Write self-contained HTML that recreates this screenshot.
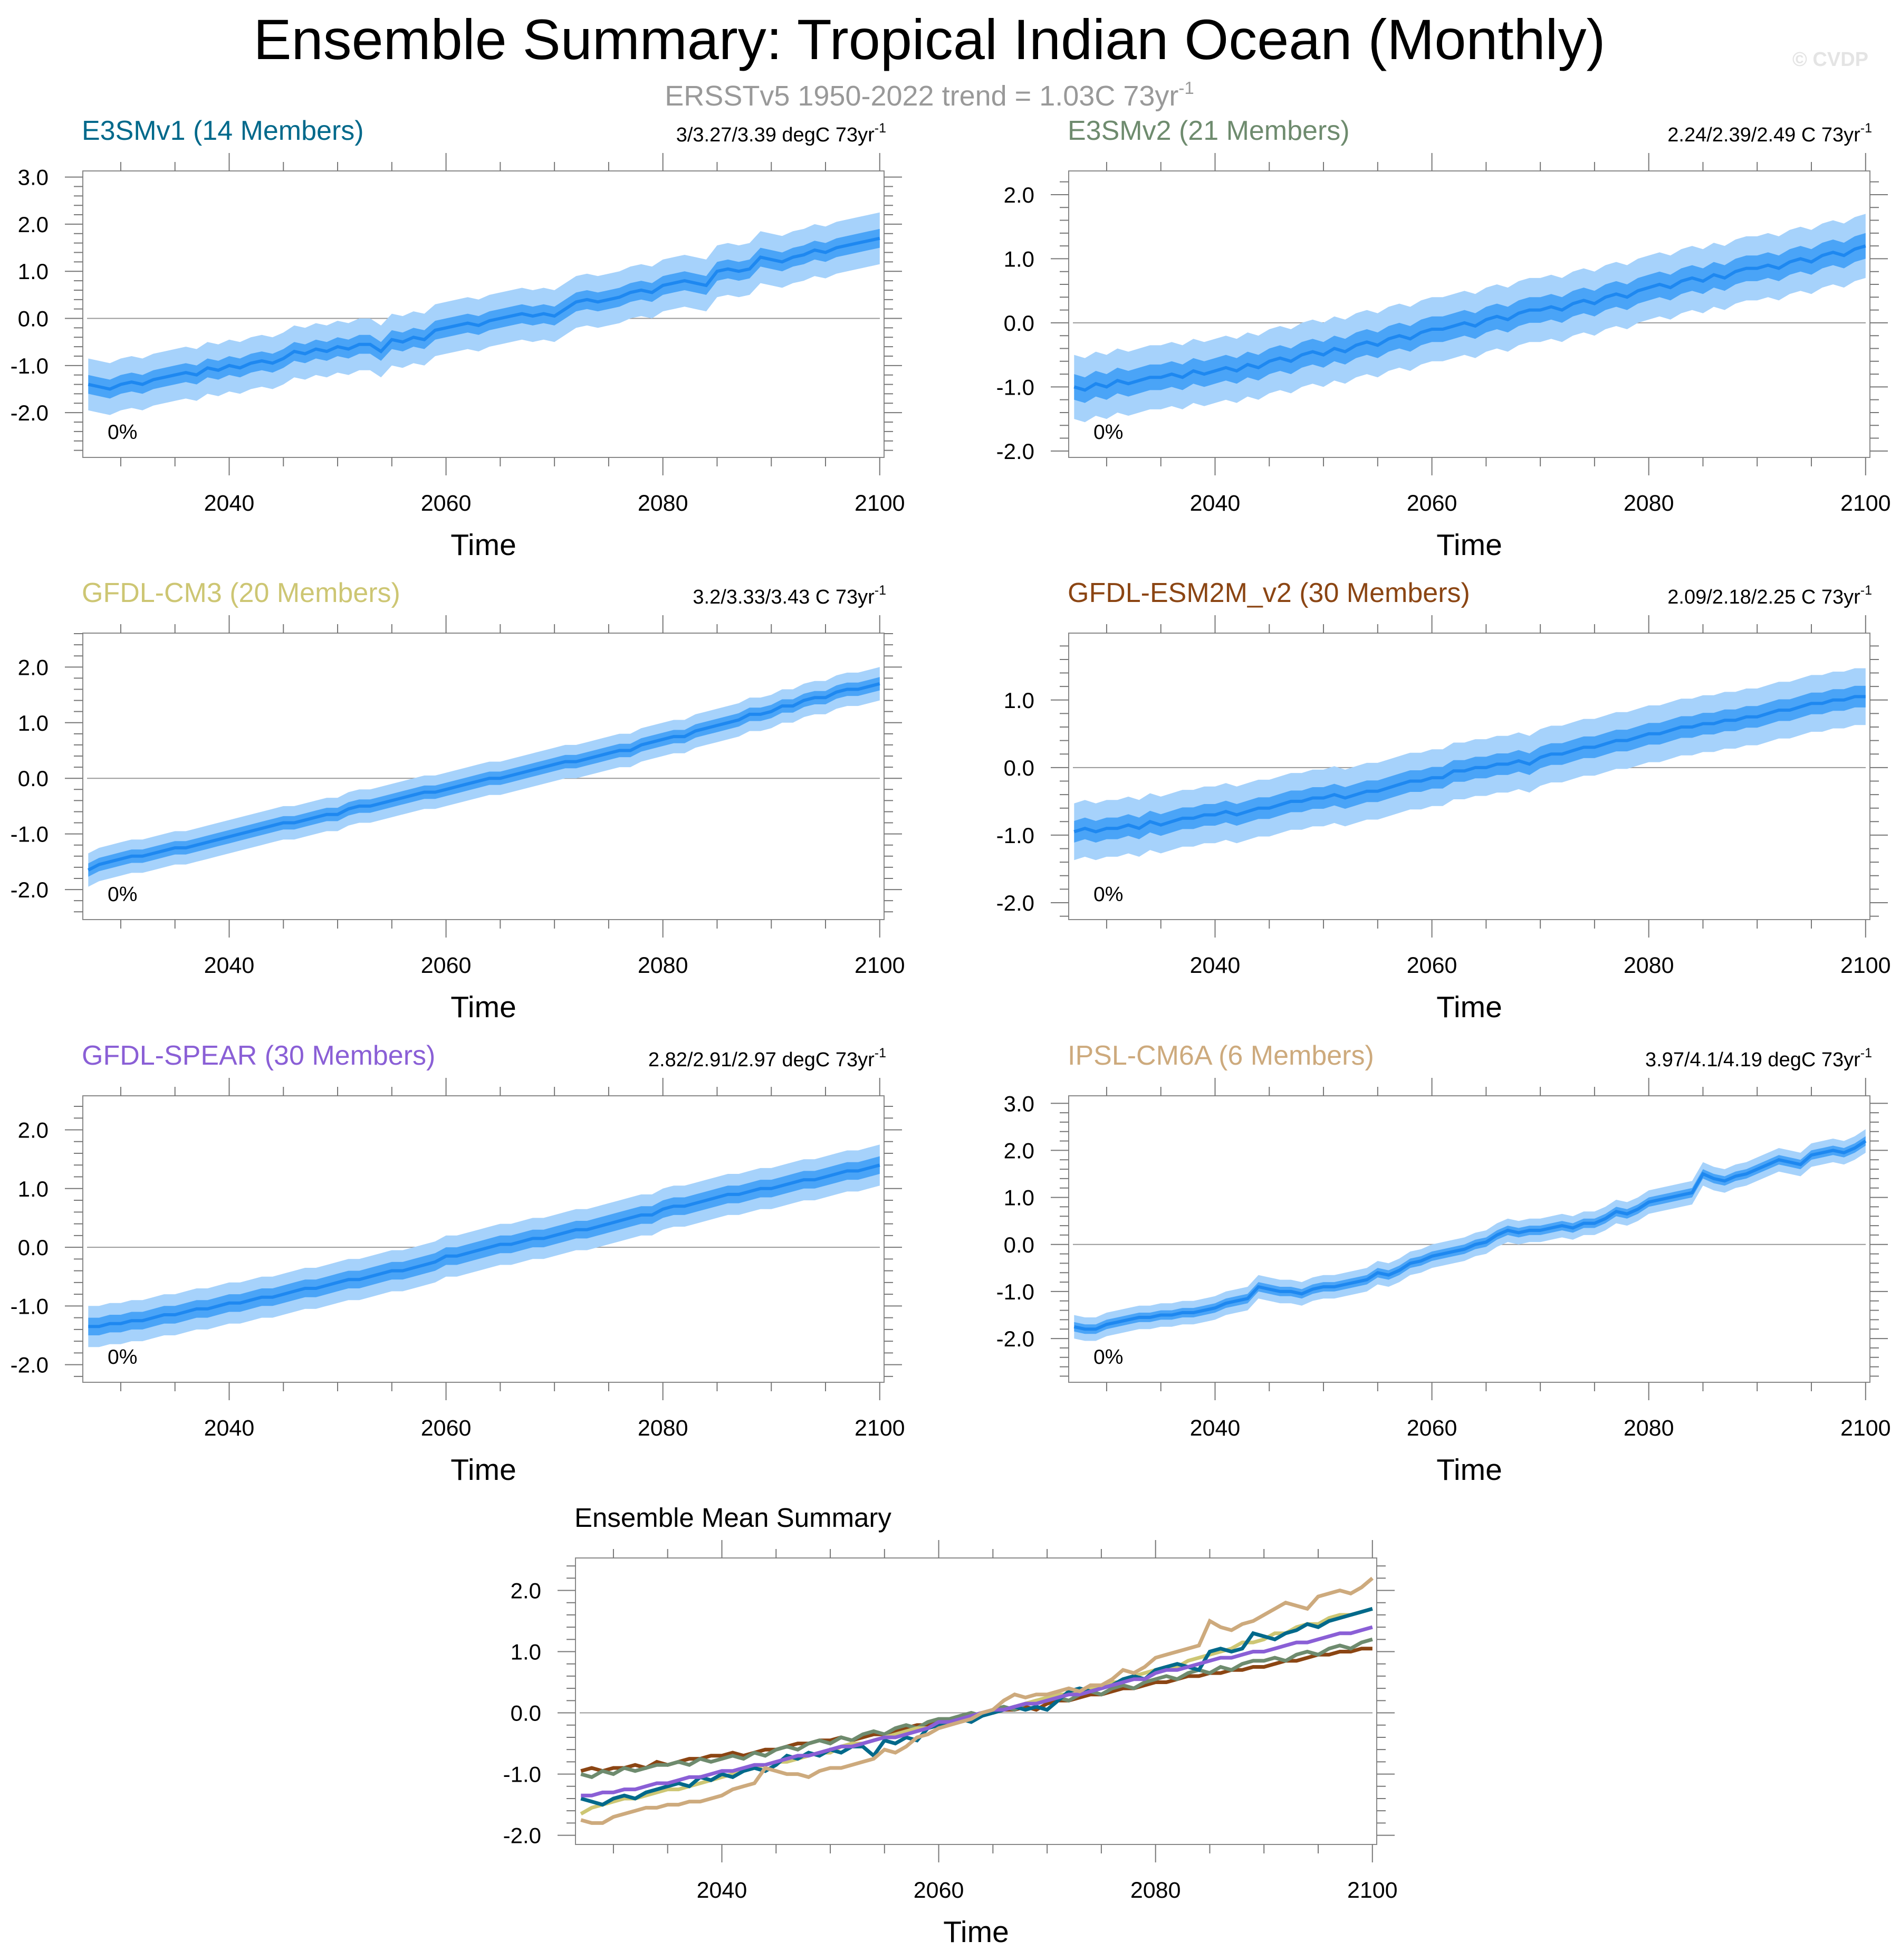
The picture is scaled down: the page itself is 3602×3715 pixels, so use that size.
<!DOCTYPE html>
<html><head><meta charset="utf-8"><style>
html,body{margin:0;padding:0;background:#fff}
svg{display:block;font-family:"Liberation Sans",sans-serif}
</style></head><body>
<svg id="fig" width="3602" height="3715" viewBox="0 0 3602 3715" xmlns="http://www.w3.org/2000/svg">
<text x="1762" y="112" font-size="108" text-anchor="middle" fill="#000">Ensemble Summary: Tropical Indian Ocean (Monthly)</text>
<text x="1762" y="200" font-size="54" text-anchor="middle" fill="#999">ERSSTv5 1950-2022 trend = 1.03C 73yr<tspan dy="-22" font-size="33">-1</tspan></text>
<text x="3542" y="125" font-size="38" font-weight="bold" text-anchor="end" fill="#e4e4e4">© CVDP</text>
<g id="plots"></g>
</svg>
<script>
const years = [];
for (let y = 2027; y <= 2100; y++) years.push(y);
const e3smv1Mean = [-1.40,-1.45,-1.50,-1.40,-1.35,-1.40,-1.30,-1.25,-1.20,-1.15,-1.20,-1.05,-1.10,-1.00,-1.05,-0.95,-0.90,-0.95,-0.85,-0.70,-0.75,-0.65,-0.70,-0.60,-0.65,-0.55,-0.55,-0.70,-0.45,-0.50,-0.40,-0.45,-0.25,-0.20,-0.15,-0.10,-0.15,-0.05,0.00,0.05,0.10,0.05,0.10,0.05,0.20,0.35,0.40,0.35,0.40,0.45,0.55,0.60,0.55,0.70,0.75,0.80,0.75,0.70,1.00,1.05,1.00,1.05,1.30,1.25,1.20,1.30,1.35,1.45,1.40,1.50,1.55,1.60,1.65,1.70];
const e3smv2Mean = [-1.00,-1.05,-0.95,-1.00,-0.90,-0.95,-0.90,-0.85,-0.85,-0.80,-0.85,-0.75,-0.80,-0.75,-0.70,-0.75,-0.65,-0.70,-0.60,-0.55,-0.60,-0.50,-0.45,-0.50,-0.40,-0.45,-0.35,-0.30,-0.35,-0.25,-0.20,-0.25,-0.15,-0.10,-0.10,-0.05,0.00,-0.05,0.05,0.10,0.05,0.15,0.20,0.20,0.25,0.20,0.30,0.35,0.30,0.40,0.45,0.40,0.50,0.55,0.60,0.55,0.65,0.70,0.65,0.75,0.70,0.80,0.85,0.85,0.90,0.85,0.95,1.00,0.95,1.05,1.10,1.05,1.15,1.20];
const cm3Mean = [-1.65,-1.55,-1.50,-1.45,-1.40,-1.40,-1.35,-1.30,-1.25,-1.25,-1.20,-1.15,-1.10,-1.05,-1.00,-0.95,-0.90,-0.85,-0.80,-0.80,-0.75,-0.70,-0.65,-0.65,-0.55,-0.50,-0.50,-0.45,-0.40,-0.35,-0.30,-0.25,-0.25,-0.20,-0.15,-0.10,-0.05,0.00,0.00,0.05,0.10,0.15,0.20,0.25,0.30,0.30,0.35,0.40,0.45,0.50,0.50,0.60,0.65,0.70,0.75,0.75,0.85,0.90,0.95,1.00,1.05,1.15,1.15,1.20,1.30,1.30,1.40,1.45,1.45,1.55,1.60,1.60,1.65,1.70];
const esm2mMean = [-0.95,-0.90,-0.95,-0.90,-0.90,-0.85,-0.90,-0.80,-0.85,-0.80,-0.75,-0.75,-0.70,-0.70,-0.65,-0.70,-0.65,-0.60,-0.60,-0.55,-0.50,-0.50,-0.45,-0.45,-0.40,-0.45,-0.40,-0.35,-0.35,-0.30,-0.25,-0.20,-0.20,-0.15,-0.15,-0.05,-0.05,0.00,0.00,0.05,0.05,0.10,0.05,0.15,0.20,0.20,0.25,0.30,0.30,0.35,0.40,0.40,0.45,0.50,0.50,0.55,0.60,0.60,0.65,0.65,0.70,0.70,0.75,0.75,0.80,0.85,0.85,0.90,0.95,0.95,1.00,1.00,1.05,1.05];
const spearMean = [-1.35,-1.35,-1.30,-1.30,-1.25,-1.25,-1.20,-1.15,-1.15,-1.10,-1.05,-1.05,-1.00,-0.95,-0.95,-0.90,-0.85,-0.85,-0.80,-0.75,-0.70,-0.70,-0.65,-0.60,-0.55,-0.55,-0.50,-0.45,-0.40,-0.40,-0.35,-0.30,-0.25,-0.15,-0.15,-0.10,-0.05,0.00,0.05,0.05,0.10,0.15,0.15,0.20,0.25,0.30,0.30,0.35,0.40,0.45,0.50,0.55,0.55,0.65,0.70,0.70,0.75,0.80,0.85,0.90,0.90,0.95,1.00,1.00,1.05,1.10,1.15,1.15,1.20,1.25,1.30,1.30,1.35,1.40];
const ipslMean = [-1.75,-1.80,-1.80,-1.70,-1.65,-1.60,-1.55,-1.55,-1.50,-1.50,-1.45,-1.45,-1.40,-1.35,-1.25,-1.20,-1.15,-0.90,-0.95,-1.00,-1.00,-1.05,-0.95,-0.90,-0.90,-0.85,-0.80,-0.75,-0.60,-0.65,-0.55,-0.40,-0.35,-0.25,-0.20,-0.15,-0.10,0.00,0.05,0.20,0.30,0.25,0.30,0.30,0.35,0.40,0.35,0.45,0.45,0.55,0.70,0.65,0.75,0.90,0.95,1.00,1.05,1.10,1.50,1.40,1.35,1.45,1.50,1.60,1.70,1.80,1.75,1.70,1.90,1.95,2.00,1.95,2.05,2.20];
const outerSpread = [0.55, 0.5, 0.3, 0.42, 0.35, 0.25];
const innerSpread = [0.2, 0.2, 0.12, 0.16, 0.15, 0.1];
const modelNames = ["E3SMv1 (14 Members)","E3SMv2 (21 Members)","GFDL-CM3 (20 Members)","GFDL-ESM2M_v2 (30 Members)","GFDL-SPEAR (30 Members)","IPSL-CM6A (6 Members)"];
const trendLabels = ["3/3.27/3.39 degC 73yr","2.24/2.39/2.49 C 73yr","3.2/3.33/3.43 C 73yr","2.09/2.18/2.25 C 73yr","2.82/2.91/2.97 degC 73yr","3.97/4.1/4.19 degC 73yr"];
const yMinVals = [-2.95,-2.1,-2.54,-2.25,-2.3,-2.93];
const yMaxVals = [3.13,2.37,2.61,1.99,2.58,3.16];
const xTickLabels = ["2040","2060","2080","2100"];
const allMeans = [e3smv1Mean,e3smv2Mean,cm3Mean,esm2mMean,spearMean,ipslMean];

const modelColors = ["#00698b","#6e8b6e","#cdc673","#8b4513","#8a5fd6","#cdaa7d"];
const NS = "http://www.w3.org/2000/svg";
const root = document.getElementById('plots');
const W = 1519, H = 543;
const X0 = 2026.5, X1 = 2100.4;
function mk(tag, attrs, parent){ const e=document.createElementNS(NS,tag); for(const k in attrs) e.setAttribute(k,attrs[k]); (parent||root).appendChild(e); return e; }

function panel(px, py, ymin, ymax, name, nameColor, trend, drawFn, idx){
  const g = mk('g',{});
  
  
  const sx = t => px + (t - X0) / (X1 - X0) * W;
  const sy = v => py + (ymax - v) / (ymax - ymin) * H;
  const z = mk('line',{x1:px+8,x2:px+W-8,y1:sy(0),y2:sy(0),stroke:'#999','stroke-width':2},g);
   
  drawFn(g, sx, sy);
  const frame = mk('rect',{x:px,y:py,width:W,height:H,fill:'none',stroke:'#888','stroke-width':2},g);
   
  for (let yr = 2030; yr <= 2100; yr += 5){
    const major = yr % 20 === 0;
    const L = major ? 34 : 17, x = sx(yr);
    mk('line',{x1:x,x2:x,y1:py,y2:py-L,stroke:'#777','stroke-width':2},g);
    mk('line',{x1:x,x2:x,y1:py+H,y2:py+H+L,stroke:'#777','stroke-width':2},g);
  }
  xTickLabels.forEach(lbl=>{
    const t = mk('text',{x:sx(+lbl),y:py+H+101,'font-size':43,'text-anchor':'middle'},g);
    t.textContent = lbl;
     
  });
  for (let k = Math.ceil(ymin*5); k <= Math.floor(ymax*5); k++){
    const v = k/5, y = sy(v), major = k % 5 === 0, L = major ? 34 : 17;
    mk('line',{x1:px,x2:px-L,y1:y,y2:y,stroke:'#777','stroke-width':2},g);
    mk('line',{x1:px+W,x2:px+W+L,y1:y,y2:y,stroke:'#777','stroke-width':2},g);
    if (major){
      const t = mk('text',{x:px-65,y:y+15,'font-size':42,'text-anchor':'end'},g);
      t.textContent = (k/5).toFixed(1);
       
    }
  }
  const xt = mk('text',{x:px+W/2,y:py+H+185,'font-size':57,'text-anchor':'middle'},g);
  xt.textContent = 'Time';
   
  const nt = mk('text',{x:px-2,y:py-59,'font-size': trend ? 52 : 51,fill:nameColor},g);
  nt.textContent = name;
   
  if (trend){
    const tt = mk('text',{x:px+W+4,y:py-56,'font-size':38,'text-anchor':'end'},g);
    tt.textContent = trend;
    const sup = mk('tspan',{dy:-17,'font-size':25},tt); sup.textContent='-1';
     
    const pc = mk('text',{x:px+47,y:py+H-35,'font-size':39},g);
    pc.textContent = '0%';
     
  }
}

function bandPath(sx, sy, mean, d){
  let s = '';
  years.forEach((yr,i)=>{ s += (i?'L':'M') + sx(yr).toFixed(1) + ',' + sy(mean[i]+d).toFixed(1); });
  for (let i = years.length-1; i >= 0; i--) s += 'L' + sx(years[i]).toFixed(1) + ',' + sy(mean[i]-d).toFixed(1);
  return s + 'Z';
}
function linePath(sx, sy, mean){
  return years.map((yr,i)=>(i?'L':'M') + sx(yr).toFixed(1) + ',' + sy(mean[i]).toFixed(1)).join('');
}

const pos = [[157,324],[2026,324],[157,1200],[2026,1200],[157,2077],[2026,2077]];
allMeans.forEach((mean, i)=>{
  panel(pos[i][0], pos[i][1], yMinVals[i], yMaxVals[i], modelNames[i], modelColors[i], trendLabels[i], (g, sx, sy)=>{
    const o = mk('path',{d:bandPath(sx,sy,mean,outerSpread[i]),fill:'#a6d2fb'},g);
     
    const n = mk('path',{d:bandPath(sx,sy,mean,innerSpread[i]),fill:'#4aa4f7'},g);
     
    const l = mk('path',{d:linePath(sx,sy,mean),fill:'none',stroke:'#1e88f0','stroke-width':6},g);
     
  }, i);
});

panel(1091, 2953, -2.15, 2.53, 'Ensemble Mean Summary', '#000', null, (g, sx, sy)=>{
  [3,1,2,0,4,5].forEach(i=>{
    const l = mk('path',{d:linePath(sx,sy,allMeans[i]),fill:'none',stroke:modelColors[i],'stroke-width':7},g);
     
  });
}, 'summary');
</script>
</body></html>
